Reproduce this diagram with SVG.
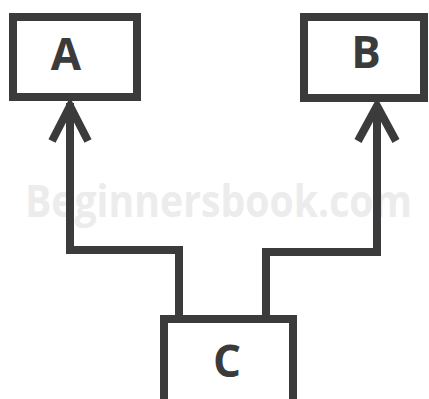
<svg xmlns="http://www.w3.org/2000/svg" width="429" height="399" viewBox="0 0 429 399">
<style>
.box{fill:#fff;stroke:#3b3b3b;stroke-width:8}
.lbl{font-family:"Open Sans","DejaVu Sans",sans-serif;font-weight:bold;font-size:44px;fill:#3b3b3b;text-anchor:middle}
.wm{font-family:"Open Sans","DejaVu Sans",sans-serif;font-weight:bold;font-size:44px;fill:#ececec}
.conn{fill:none;stroke:#3b3b3b;stroke-width:8;stroke-linejoin:miter}
</style>
<rect width="429" height="399" fill="#fff"/>
<text class="wm" x="25" y="217" textLength="387" lengthAdjust="spacingAndGlyphs">Beginnersbook.com</text>
<g id="connectors">
<path class="conn" d="M179 315 V250 H70 V103"/>
<path class="conn" d="M52 141 L70 106 L88 141"/>
<path class="conn" d="M266 315 V252 H377 V105"/>
<path class="conn" d="M358 141 L377 106 L396 141"/>
</g>
<g id="A">
<rect class="box" x="13" y="17" width="124" height="80"/>
<text class="lbl" x="66" y="70">A</text>
</g>
<g id="B">
<rect class="box" x="304" y="17" width="120" height="81"/>
<text class="lbl" x="366" y="68">B</text>
</g>
<g id="C">
<rect class="box" x="164" y="319" width="129" height="90"/>
<text class="lbl" x="227" y="377">C</text>
</g>
</svg>
